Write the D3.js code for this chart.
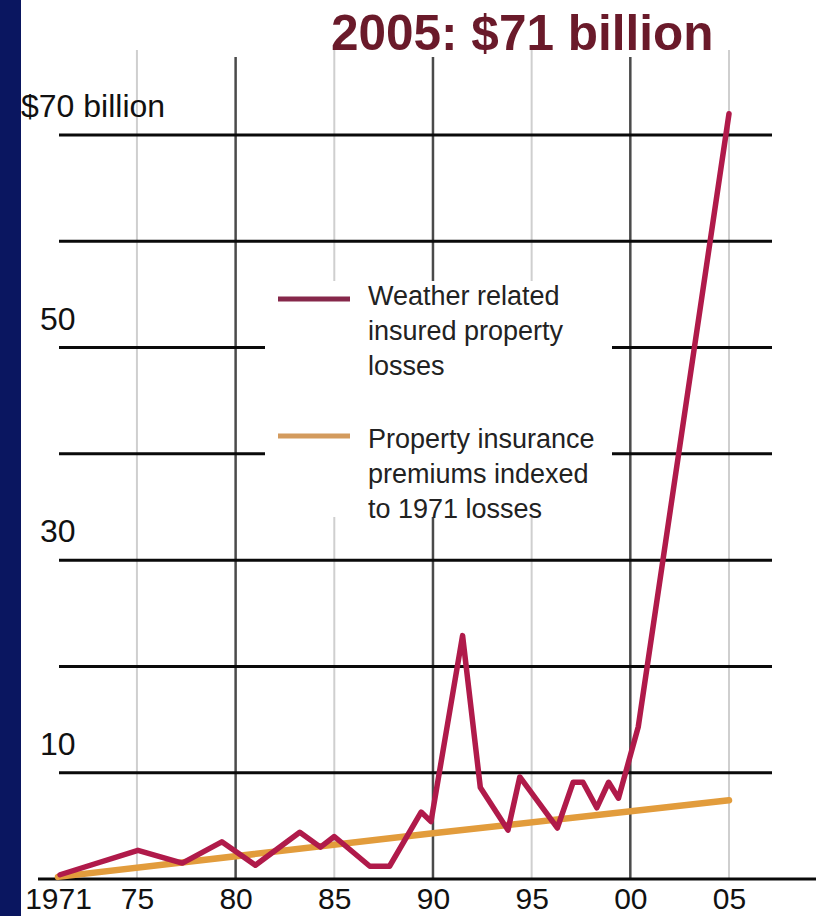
<!DOCTYPE HTML>
<html>
	<head>
        <meta charset='utf-8'>
        <title>Weather related insured losses</title>
        <script src='https://d3js.org/d3.v7.min.js'></script>
        <style>
            body {
                margin: 0;
                background: #fff;
            }

            text {
                font-family: 'Liberation Sans', Arial, sans-serif;
            }

            .axis path {
                display: none;
            }

            .axis text {
                font-size: 30px;
                fill: #111;
            }

            .line {
                fill: none;
                stroke-linejoin: round;
                stroke-linecap: round;
            }
        </style>
	</head>
	<body>
        <svg width='816' height='916' id='loss-graph'></svg>
        <script>
            // values, in $ billion
            const lossYears = [1971.1, 1975.05, 1977.3, 1979.3, 1981, 1983.25, 1984.3, 1985, 1986.8, 1987.8,
                1989.4, 1989.9, 1991.5, 1992.4, 1993.8, 1994.4, 1996.3, 1997.1, 1997.6, 1998.3,
                1998.9, 1999.4, 2000.4, 2005];
            const lossValues = [0.4, 2.7, 1.5, 3.5, 1.3, 4.4, 3.0, 4.0, 1.2, 1.2,
                6.3, 5.4, 22.9, 8.6, 4.6, 9.6, 4.8, 9.1, 9.1, 6.7,
                9.1, 7.6, 14.3, 72];

            const premiumYears = [1971, 1990, 2005];
            const premiumValues = [0.2, 4.3, 7.4];

            const gridValues = [10, 20, 30, 40, 50, 60, 70];
            const yLabelValues = [10, 30, 50, 70];
            const yLabelTexts = ['10', '30', '50', '$70 billion'];

            const xTickYears = [1971, 1975, 1980, 1985, 1990, 1995, 2000, 2005];
            const xTickLabels = ['1971', '75', '80', '85', '90', '95', '00', '05'];
            const majorYears = [1980, 1990, 2000];
            const minorYears = [1975, 1985, 1995, 2005];

            const legendItems = [
                ['Weather related', 'insured property', 'losses'],
                ['Property insurance', 'premiums indexed', 'to 1971 losses']
            ];
            const lossColor = '#b01a4a';
            const premiumColor = '#e29c3c';

            function renderGraph(svg_id) {
                var svg = d3.select(`svg#${svg_id}`);

                var x = d3.scaleLinear().domain([1971, 2005]).range([58, 729]);
                var y = d3.scaleLinear().domain([0, 70]).range([879, 135]);

                // navy strip on the left
                svg.append('rect')
                    .attr('x', 0).attr('y', 0)
                    .attr('width', 21).attr('height', 916)
                    .attr('fill', '#0a1660');

                // vertical grid
                svg.append('g').selectAll('line')
                    .data(minorYears)
                    .enter().append('line')
                    .attr('x1', d => x(d)).attr('x2', d => x(d))
                    .attr('y1', 50).attr('y2', 879)
                    .attr('stroke', '#cfcfcf')
                    .attr('stroke-width', 2);

                svg.append('g').selectAll('line')
                    .data(majorYears)
                    .enter().append('line')
                    .attr('x1', d => x(d)).attr('x2', d => x(d))
                    .attr('y1', 57).attr('y2', 879)
                    .attr('stroke', '#4a4a4a')
                    .attr('stroke-width', 2.5);

                // horizontal grid
                svg.append('g').selectAll('line')
                    .data(gridValues)
                    .enter().append('line')
                    .attr('x1', 59).attr('x2', 772)
                    .attr('y1', d => y(d)).attr('y2', d => y(d))
                    .attr('stroke', '#0a0a0a')
                    .attr('stroke-width', 3);

                svg.append('line')
                    .attr('x1', 38).attr('x2', 816)
                    .attr('y1', y(0)).attr('y2', y(0))
                    .attr('stroke', '#0a0a0a')
                    .attr('stroke-width', 3);

                // legend box covers the grid behind it
                svg.append('rect')
                    .attr('x', 265).attr('y', 281)
                    .attr('width', 347).attr('height', 236)
                    .attr('fill', '#fff');

                var line = d3.line()
                    .x(function(d) { return x(d[0]); })
                    .y(function(d) { return y(d[1]); });

                svg.append('path')
                    .datum(d3.zip(premiumYears, premiumValues))
                    .attr('class', 'line')
                    .attr('stroke', premiumColor)
                    .attr('stroke-width', 6.5)
                    .attr('d', line);

                svg.append('path')
                    .datum(d3.zip(lossYears, lossValues))
                    .attr('class', 'line')
                    .attr('stroke', lossColor)
                    .attr('stroke-width', 5.5)
                    .attr('d', line);

                svg.append('g')
                    .attr('class', 'axis axis--x')
                    .attr('transform', 'translate(0,' + y(0) + ')')
                    .call(d3.axisBottom(x)
                        .tickValues(xTickYears)
                        .tickFormat((d, i) => xTickLabels[i])
                        .tickSize(0)
                        .tickPadding(9));

                svg.append('g').selectAll('text')
                    .data(yLabelValues)
                    .enter().append('text')
                    .attr('x', (d, i) => i == yLabelValues.length - 1 ? 21 : 40)
                    .attr('y', d => y(d) - 18)
                    .attr('font-size', 32)
                    .attr('fill', '#111')
                    .text((d, i) => yLabelTexts[i]);

                // legend
                var legend = svg.append('g');
                [[299, '#86284a', 305], [436, '#d39b5e', 448]].forEach(function(row, i) {
                    legend.append('line')
                        .attr('x1', 278).attr('x2', 350)
                        .attr('y1', row[0]).attr('y2', row[0])
                        .attr('stroke', row[1])
                        .attr('stroke-width', 5);
                    legend.append('g').selectAll('text')
                        .data(legendItems[i])
                        .enter().append('text')
                        .attr('x', 368)
                        .attr('y', (d, j) => row[2] + j * 35)
                        .attr('font-size', 27)
                        .attr('fill', '#222')
                        .text(d => d);
                });

                svg.append('text')
                    .attr('x', 331)
                    .attr('y', 50)
                    .attr('font-size', 49.5)
                    .attr('font-weight', 'bold')
                    .attr('fill', '#6a1a2a')
                    .text('2005: $71 billion');
            }

            renderGraph('loss-graph');
        </script>
	</body>
</html>
